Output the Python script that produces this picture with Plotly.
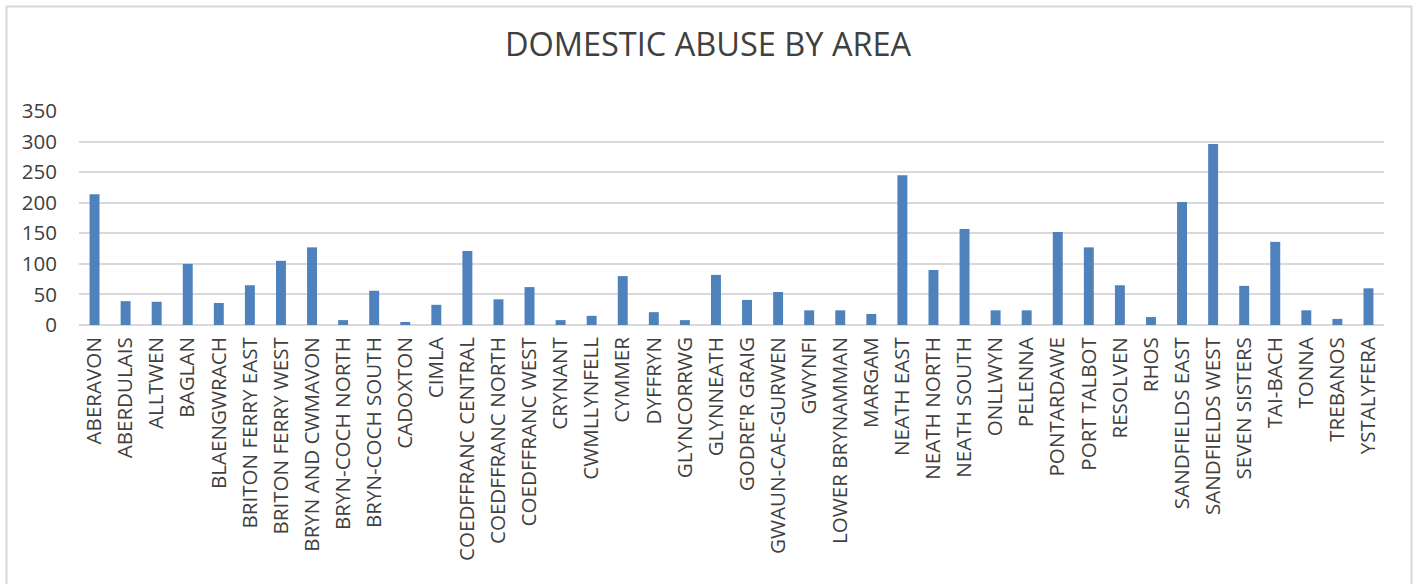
import plotly.graph_objects as go

areas = ["ABERAVON", "ABERDULAIS", "ALLTWEN", "BAGLAN", "BLAENGWRACH",
         "BRITON FERRY EAST", "BRITON FERRY WEST", "BRYN AND CWMAVON",
         "BRYN-COCH NORTH", "BRYN-COCH SOUTH", "CADOXTON", "CIMLA",
         "COEDFFRANC CENTRAL", "COEDFFRANC NORTH", "COEDFFRANC WEST",
         "CRYNANT", "CWMLLYNFELL", "CYMMER", "DYFFRYN", "GLYNCORRWG",
         "GLYNNEATH", "GODRE'R GRAIG", "GWAUN-CAE-GURWEN", "GWYNFI",
         "LOWER BRYNAMMAN", "MARGAM", "NEATH EAST", "NEATH NORTH",
         "NEATH SOUTH", "ONLLWYN", "PELENNA", "PONTARDAWE", "PORT TALBOT",
         "RESOLVEN", "RHOS", "SANDFIELDS EAST", "SANDFIELDS WEST",
         "SEVEN SISTERS", "TAI-BACH", "TONNA", "TREBANOS", "YSTALYFERA"]

cases = [214, 39, 38, 100, 36,
         65, 105, 127,
         8, 56, 5, 33,
         121, 42, 62,
         8, 15, 80, 21, 8,
         82, 41, 54, 24,
         24, 18, 245, 90,
         157, 24, 24, 152, 127,
         65, 13, 201, 296,
         64, 136, 24, 10, 60]

y_ticks = [0, 50, 100, 150, 200, 250, 300, 350]

fig = go.Figure(go.Bar(x=areas, y=cases, marker_color="#4f81bd",
                       marker_line_width=0))

W, H = 1416, 584
L, R, T, B = 79, 32, 111, 259
pw, ph = W - L - R, H - T - B

fig.update_layout(
    width=W, height=H,
    margin=dict(l=L, r=R, t=T, b=B),
    paper_bgcolor="white", plot_bgcolor="white",
    bargap=0.68,
    showlegend=False,
    font=dict(family="Open Sans", color="#404040"),
    title=dict(text="DOMESTIC ABUSE BY AREA", x=0.5, xanchor="center",
               y=1 - 45 / H, yanchor="middle",
               font=dict(size=32.5, color="#404040", family="Open Sans")),
)
fig.update_xaxes(tickangle=-90,
                 tickfont=dict(size=20.6, color="#404040", family="Open Sans"),
                 showgrid=False, showline=False, ticks="",
                 ticklabelstandoff=7)
fig.update_yaxes(range=[0, 350], tickvals=y_ticks,
                 tickfont=dict(size=20.5, color="#404040"),
                 showgrid=True, gridcolor="#d9d9d9", gridwidth=1.5,
                 zeroline=True, zerolinecolor="#d9d9d9", zerolinewidth=1.5,
                 showline=False, ticks="", ticklabelstandoff=21)

fig.add_shape(type="rect", xref="paper", yref="paper",
              x0=(6.5 - L) / pw, x1=(1411.5 - L) / pw,
              y0=(325 - 620) / ph, y1=(325 - 6.5) / ph,
              line=dict(color="#d9d9d9", width=2), fillcolor="rgba(0,0,0,0)",
              layer="below")

fig.write_html("out.html")
